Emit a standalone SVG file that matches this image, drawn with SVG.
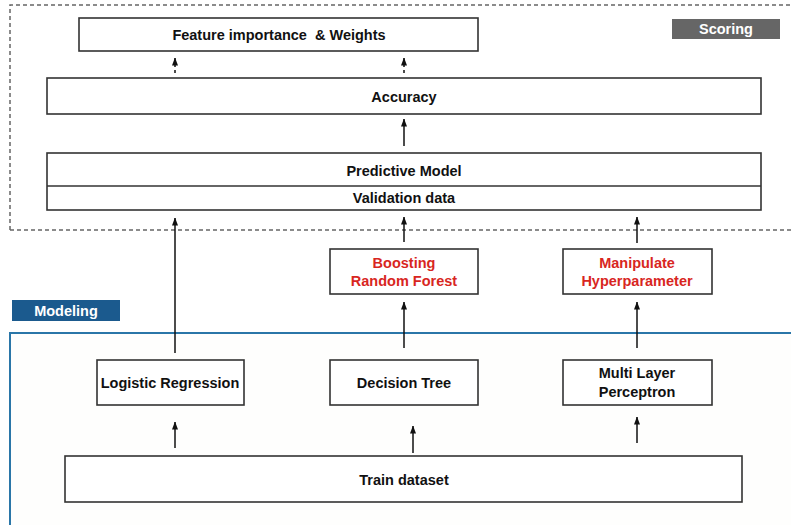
<svg xmlns="http://www.w3.org/2000/svg" width="791" height="525" viewBox="0 0 791 525">
<defs>
<marker id="ah" viewBox="0 0 8 6" refX="7.5" refY="3" markerWidth="8" markerHeight="6" markerUnits="userSpaceOnUse" orient="auto">
<path d="M0,0 L8,3 L0,6 Z" fill="#111"/>
</marker>
<style>
.box{fill:#fff;stroke:#333;stroke-width:1.6}
.t{font-family:"Liberation Sans",Arial,sans-serif;font-weight:bold;font-size:14.5px;fill:#111;text-anchor:middle}
.r{fill:#d8261e}
.w{fill:#fff}
.ln{stroke:#111;stroke-width:1.5;fill:none}
.dl{stroke:#111;stroke-width:1.5;fill:none;stroke-dasharray:3 3}
</style>
</defs>
<rect width="791" height="525" fill="#fff"/>
<g id="modeling-region">
<rect x="10" y="333" width="790" height="200" fill="#fefefd" stroke="#2a76a8" stroke-width="2"/>
</g>
<g id="scoring-region">
<path d="M10,230 V5 H800 M10,230 H800" fill="none" stroke="#666" stroke-width="1.5" stroke-dasharray="4 3"/>
</g>
<g id="scoring-label">
<rect x="672" y="19" width="108" height="20" fill="#666"/>
<text class="t w" x="726" y="34" font-size="15">Scoring</text>
</g>
<g id="modeling-label">
<rect x="12" y="300" width="108" height="21" fill="#1b5a8e"/>
<text class="t w" x="66" y="316" font-size="15.5">Modeling</text>
</g>
<g id="feature">
<rect class="box" x="79" y="18" width="399" height="33"/>
<text class="t" x="279" y="40" xml:space="preserve">Feature importance  &amp; Weights</text>
</g>
<g id="accuracy">
<rect class="box" x="47" y="78" width="714" height="36"/>
<text class="t" x="404" y="102">Accuracy</text>
</g>
<g id="predictive">
<rect class="box" x="47" y="153" width="714" height="57"/>
<line x1="47" y1="186" x2="761" y2="186" stroke="#333" stroke-width="1.6"/>
<text class="t" x="404" y="176">Predictive Model</text>
<text class="t" x="404" y="203">Validation data</text>
</g>
<g id="boosting">
<rect class="box" x="330" y="249" width="148" height="45"/>
<text class="t r" x="404" y="268">Boosting</text>
<text class="t r" x="404" y="286">Random Forest</text>
</g>
<g id="manipulate">
<rect class="box" x="563" y="249" width="149" height="45"/>
<text class="t r" x="637" y="268">Manipulate</text>
<text class="t r" x="637" y="286">Hyperparameter</text>
</g>
<g id="logistic">
<rect class="box" x="97" y="360" width="147" height="45"/>
<text class="t" x="170" y="388">Logistic Regression</text>
</g>
<g id="decision">
<rect class="box" x="330" y="360" width="148" height="45"/>
<text class="t" x="404" y="388">Decision Tree</text>
</g>
<g id="mlp">
<rect class="box" x="563" y="360" width="149" height="45"/>
<text class="t" x="637" y="378">Multi Layer</text>
<text class="t" x="637" y="397">Perceptron</text>
</g>
<g id="train">
<rect class="box" x="65" y="456" width="677" height="46"/>
<text class="t" x="404" y="485">Train dataset</text>
</g>
<g id="connectors">
<line class="dl" x1="175" y1="73" x2="175" y2="58" marker-end="url(#ah)"/>
<line class="dl" x1="404" y1="73" x2="404" y2="58" marker-end="url(#ah)"/>
<line class="ln" x1="404" y1="146" x2="404" y2="119" marker-end="url(#ah)"/>
<line class="ln" x1="175" y1="353" x2="175" y2="218" marker-end="url(#ah)"/>
<line class="ln" x1="404" y1="242" x2="404" y2="217" marker-end="url(#ah)"/>
<line class="ln" x1="637" y1="243" x2="637" y2="217" marker-end="url(#ah)"/>
<line class="ln" x1="404" y1="348" x2="404" y2="302" marker-end="url(#ah)"/>
<line class="ln" x1="637" y1="348" x2="637" y2="302" marker-end="url(#ah)"/>
<line class="ln" x1="175" y1="448" x2="175" y2="422" marker-end="url(#ah)"/>
<line class="ln" x1="413" y1="453" x2="413" y2="426" marker-end="url(#ah)"/>
<line class="ln" x1="637" y1="443" x2="637" y2="417" marker-end="url(#ah)"/>
</g>
</svg>
